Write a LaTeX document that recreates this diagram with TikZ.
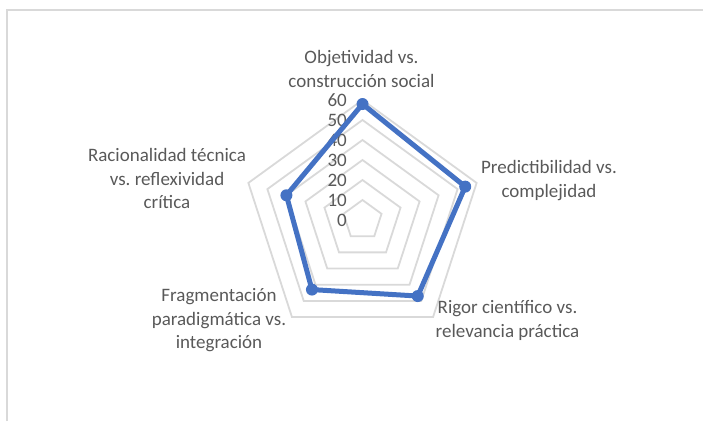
\documentclass[tikz,border=0pt]{standalone}
\usepackage{fontspec}
\setmainfont{Carlito}
\usetikzlibrary{calc}
\definecolor{txtgray}{HTML}{595959}
\definecolor{gridgray}{HTML}{D9D9D9}
\definecolor{series}{HTML}{4472C4}
\frenchspacing
\begin{document}
\begin{tikzpicture}[x=1pt,y=-1pt,
  gridline/.style={draw=gridgray,line width=1.8pt,line join=miter},
  lbl/.style={text=txtgray,font=\fontsize{19}{23.5}\selectfont,align=center,inner sep=0pt,anchor=north},
  tick/.style={text=txtgray,font=\fontsize{19}{23.5}\selectfont,inner sep=0pt,anchor=east},
  dataline/.style={draw=series,line width=5pt,line join=round},
  dot/.style={circle,fill=series,inner sep=0pt,minimum size=12pt}]
\useasboundingbox (0,0) rectangle (703,421);
\draw[draw=gridgray,line width=1.8pt] (7,421) -- (7,10) -- (703,10);
\coordinate (C) at (362.5,220);
\foreach \l in {1,...,6}{
  \draw[gridline] ($(C)+(0,{-20*\l})$)
    \foreach \k in {1,...,4}{ -- ($(C)+({20*\l*cos(90-72*\k)},{-20*\l*sin(90-72*\k)})$)} -- cycle;
}
\foreach \v in {0,10,...,60}
  \node[tick] (t\v) at ($(C)+(-15.5,{-2*\v})$) {\v};
\foreach \v [count=\i] in {58,54,47,43,40}
  \coordinate (p\i) at ($(C)+({2*\v*cos(90-72*(\i-1))},{-2*\v*sin(90-72*(\i-1))})$);
\draw[dataline] (p1) -- (p2) -- (p3) -- (p4) -- (p5) -- cycle;
\foreach \i in {1,...,5}
  \node[dot] (m\i) at (p\i) {};
\node[lbl] (l1) at (361.5,46.9) {\strut Objetividad vs.\\construcción social};
\node[lbl] (l2) at (549,156.9) {\strut Predictibilidad vs.\\complejidad};
\node[lbl] (l3) at (507.5,296.9) {\strut Rigor científico vs.\\relevancia práctica};
\node[lbl] (l4) at (219,285.2) {\strut Fragmentación\\paradigmática vs.\\integración};
\node[lbl] (l5) at (167,145.2) {\strut Racionalidad técnica\\vs. reflexividad\\crítica};
\end{tikzpicture}
\end{document}
